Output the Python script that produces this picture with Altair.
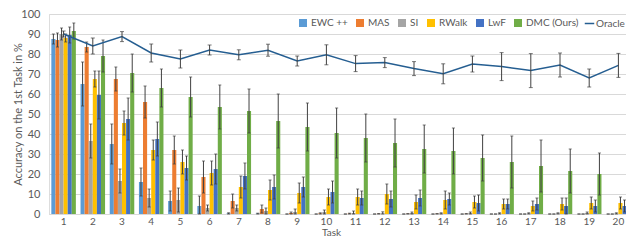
import altair as alt
import pandas as pd

tasks = list(range(1, 21))
methods = ["EWC ++", "MAS", "SI", "RWalk", "LwF", "DMC (Ours)"]
colors = ["#5B9BD5", "#ED7D31", "#A5A5A5", "#FFC000", "#4472C4", "#70AD47"]
yticks = [0, 10, 20, 30, 40, 50, 60, 70, 80, 90, 100]

ewc = [87.5, 65, 35, 16, 6.5, 4, 0.3, 0.2, 0, 0, 0, 0, 0, 0, 0, 0, 0, 0, 0, 0]
ewc_err = [2.5, 11, 10, 7, 5, 5, 0.3, 0.2, 0, 0, 0, 0, 0, 0, 0, 0, 0, 0, 0, 0]
mas = [87, 83.5, 67.5, 56, 32, 18.5, 6.5, 2.5, 0.5, 0.3, 0.2, 0.1, 0.1, 0.1, 0.1, 0, 0, 0, 0, 0]
mas_err = [3.5, 2.5, 6, 8, 7, 8, 3.5, 2, 0.5, 0.3, 0.2, 0.1, 0.1, 0.1, 0.1, 0, 0, 0, 0, 0]
si = [90, 36.5, 16.5, 8, 7, 3, 3, 1.5, 1, 1, 0.5, 0.3, 0.5, 0.3, 0.5, 0.3, 0.3, 0.3, 0.5, 0.3]
si_err = [3, 8.5, 6, 4.5, 6, 1.5, 1.5, 1.5, 1.5, 1, 1, 0.8, 0.5, 0.3, 0.5, 0.3, 0.3, 0.3, 0.5, 0.3]
rwalk = [88, 67.5, 45.5, 32, 26, 20.5, 13.5, 12, 10.5, 8.5, 8.5, 10, 6, 7, 6, 5, 4, 5, 5.5, 5.5]
rwalk_err = [2, 4, 6, 5, 6, 6, 5.5, 5, 5, 4, 4, 5, 3.5, 4.5, 3, 2.5, 2.5, 3, 3, 3]
lwf = [89.5, 59.5, 47.5, 37.5, 23, 22.5, 19, 13.5, 13.5, 11, 8, 7.5, 8, 7.5, 5.5, 5, 5, 4, 4, 4]
lwf_err = [4, 12, 10.5, 8.5, 6, 7.5, 6.5, 6, 5, 5.5, 3.5, 4, 4, 3, 4, 2.5, 3, 4, 3, 3]
dmc = [91.5, 79, 70.5, 63, 58.5, 53.5, 51.5, 46.5, 43.5, 40.5, 38, 35.5, 32.5, 31.5, 28, 26, 24, 21.5, 20, 17.5]
dmc_err = [4, 8, 9.5, 9.5, 10, 11, 11, 13.5, 12, 12.5, 12, 12, 12, 11.5, 11.5, 13, 13, 11, 10.5, 10.5]
oracle = [90, 84, 88.7, 80.5, 77.5, 82, 79.6, 81.9, 76.5, 79.6, 75.2, 75.7, 72.7, 70.1, 75, 73.7, 71.7, 74.5, 68, 74.3]
oracle_err = [1.5, 4, 2.5, 4.5, 4.5, 2.5, 2.5, 3, 2.5, 5, 4, 2.5, 3.5, 5, 4, 7, 8.5, 6, 4.5, 6]

series = [(ewc, ewc_err), (mas, mas_err), (si, si_err), (rwalk, rwalk_err), (lwf, lwf_err), (dmc, dmc_err)]
rows = []
for m, (vals, errs) in zip(methods, series):
    for t, v, e in zip(tasks, vals, errs):
        rows.append({"Task": t, "Method": m, "Acc": v, "lo": max(v - e, 0), "hi": v + e})
bars_df = pd.DataFrame(rows)
or_df = pd.DataFrame({"Task": tasks, "Acc": oracle,
                      "lo": [v - e for v, e in zip(oracle, oracle_err)],
                      "hi": [v + e for v, e in zip(oracle, oracle_err)],
                      "series": ["Oracle"] * len(tasks)})

FONT = "Lato"
TXT = "#595959"
ERR = "#404040"
H = 200

x = alt.X("Task:O", sort=tasks,
          scale=alt.Scale(paddingInner=0.16, paddingOuter=0.08),
          axis=alt.Axis(title="Task", labelAngle=0, ticks=False, domainColor="#D9D9D9",
                        labelPadding=2, titlePadding=1, titleX=282, titleAlign="center",
                        labelFont=FONT, labelFontSize=10,
                        labelColor=TXT, titleFont=FONT, titleFontSize=10, titleColor=TXT,
                        titleFontWeight="normal"))
xo = alt.XOffset("Method:N", sort=methods, scale=alt.Scale(paddingInner=0, paddingOuter=0))
yscale = alt.Scale(domain=[0, 100])
yaxis = alt.Axis(title="Accuracy on the 1st Task in %", values=yticks,
                 domain=False, ticks=False, gridColor="#D9D9D9", labelPadding=9,
                 labelOverlap=False, labelSeparation=0,
                 labelFont=FONT, labelFontSize=11, labelColor=TXT, titleFont=FONT,
                 titleFontSize=11, titleColor=TXT, titleFontWeight="normal",
                 titleX=-31, titleY=H / 2, titleAlign="center", titleBaseline="middle", titleAngle=-90)
noaxis = alt.Axis(title=None, labels=False, grid=False, domain=False, ticks=False)

base = alt.Chart(bars_df)
bars = base.mark_bar().encode(
    x=x, xOffset=xo,
    y=alt.Y("Acc:Q", scale=yscale, axis=yaxis),
    fill=alt.Fill("Method:N", sort=methods, scale=alt.Scale(domain=methods, range=colors),
                  legend=alt.Legend(title=None, orient="none", legendX=249, legendY=4,
                                    direction="horizontal", symbolType="square", symbolSize=64,
                                    symbolStrokeWidth=0, labelFont=FONT, labelFontSize=10,
                                    labelColor=TXT, columnPadding=7, labelOffset=3)),
)
err = base.mark_rule(color=ERR, strokeWidth=1).encode(
    x=x, xOffset=xo, y=alt.Y("lo:Q", scale=yscale, axis=noaxis), y2="hi:Q")
cap_hi = base.mark_tick(color=ERR, thickness=1, size=3).encode(
    x=x, xOffset=xo, y=alt.Y("hi:Q", scale=yscale, axis=noaxis))
cap_lo = base.mark_tick(color=ERR, thickness=1, size=3).encode(
    x=x, xOffset=xo, y=alt.Y("lo:Q", scale=yscale, axis=noaxis))

obase = alt.Chart(or_df)
oline = obase.mark_line(strokeWidth=1.5).encode(
    x=x, y=alt.Y("Acc:Q", scale=yscale, axis=noaxis),
    stroke=alt.Stroke("series:N", scale=alt.Scale(domain=["Oracle"], range=["#255E91"]),
                      legend=alt.Legend(title=None, orient="none", legendX=535, legendY=4,
                                        symbolType="stroke", symbolStrokeWidth=1.5,
                                        labelFont=FONT, labelFontSize=10, labelColor=TXT,
                                        labelOffset=1, symbolSize=90)))
oerr = obase.mark_rule(color=ERR, strokeWidth=1).encode(
    x=x, y=alt.Y("lo:Q", scale=yscale, axis=noaxis), y2="hi:Q")
ocap_hi = obase.mark_tick(color=ERR, thickness=1, size=4).encode(
    x=x, y=alt.Y("hi:Q", scale=yscale, axis=noaxis))
ocap_lo = obase.mark_tick(color=ERR, thickness=1, size=4).encode(
    x=x, y=alt.Y("lo:Q", scale=yscale, axis=noaxis))

chart = alt.layer(bars, err, cap_hi, cap_lo, oline, oerr, ocap_hi, ocap_lo).resolve_scale(
    fill="independent", stroke="independent"
).resolve_axis(y="independent").properties(
    width=584, height=H, autosize="none",
    padding={"left": 41, "top": 6, "right": -7, "bottom": 23},
).configure_view(stroke=None).configure_axis(labelOverlap=False).configure(background="white")

chart.save("out.html", embed_options={"renderer": "svg", "actions": False})
